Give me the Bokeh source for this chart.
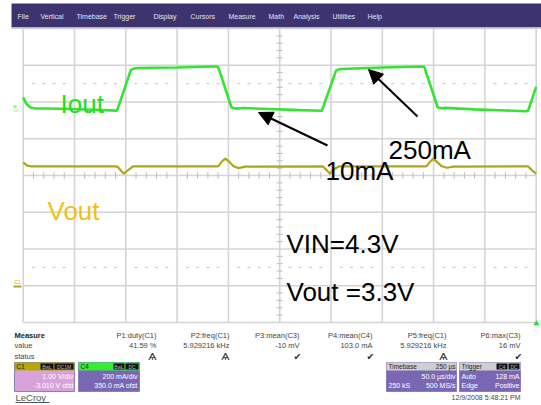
from bokeh.plotting import figure
from bokeh.models import Range1d, Arrow, NormalHead
from bokeh.core.properties import value
from bokeh.embed import file_html
from bokeh.resources import INLINE

# ---------------- data ----------------
# time in microseconds (50 us/div, 10 div), Iout in mA (200 mA/div, -350 mA centre), Vout in V (1 V/div, 3.01 V centre)
t_iout = [0, 3, 7, 12, 25, 45, 70, 90, 91.5,
          105, 108, 112, 150, 185, 189.5,
          191, 203, 207, 215, 240, 270, 291,
          305, 309, 350, 389, 391,
          404, 408, 412, 440, 470, 490, 492, 500]
iout_ma = [76, 40, 20, 15, 15, 12, 8, 3, 3,
           225, 232, 235, 238, 243, 243,
           225, 20, 14, 17, 12, 6, 2,
           222, 230, 238, 243, 240,
           20, 16, 18, 10, 4, 0, 2, 132]

t_vout = [0, 4, 8, 88, 92, 98, 102, 107, 190, 194, 197, 201, 205, 210, 216,
          292, 296, 299, 303, 308, 393, 397, 400, 404, 408, 413, 419, 492, 496, 500]
vout_v = [3.37, 3.28, 3.26, 3.26, 3.25, 3.06, 3.15, 3.26, 3.26, 3.40, 3.47, 3.38, 3.26, 3.21, 3.25,
          3.26, 3.15, 3.06, 3.18, 3.26, 3.26, 3.40, 3.47, 3.36, 3.26, 3.22, 3.25, 3.26, 3.15, 3.06]

time_ticks = [0, 50, 100, 150, 200, 250, 300, 350, 400, 450, 500]
div_ticks = [-4, -3, -2, -1, 0, 1, 2, 3, 4]

menu_items = ["File", "Vertical", "Timebase", "Trigger", "Display", "Cursors",
              "Measure", "Math", "Analysis", "Utilities", "Help"]
meas_headers = ["P1:duty(C1)", "P2:freq(C1)", "P3:mean(C3)", "P4:mean(C4)", "P5:freq(C1)", "P6:max(C3)"]
meas_values = ["41.59 %", "5.929216 kHz", "-10 mV", "103.0 mA", "5.929216 kHz", "16 mV"]
meas_status = ["Ѧ", "Ѧ", "✔", "✔", "Ѧ", "✔"]

# ---------------- layout constants (page pixels) ----------------
W, H = 541, 405
PAGE_L, PAGE_T = 0, 0
GRID_L, GRID_R, GRID_T, GRID_B = 22.7, 535.7, 28.0, 322.0
px_per_us = (GRID_R - GRID_L) / 500.0
px_per_div = (GRID_B - GRID_T) / 8.0
t_start = (PAGE_L - GRID_L) / px_per_us
t_end = (PAGE_L + W - GRID_L) / px_per_us
d_top = 4 + (GRID_T - PAGE_T) / px_per_div
d_bot = -4 - (PAGE_T + H - GRID_B) / px_per_div

p = figure(width=W, height=H, output_backend="svg", toolbar_location=None,
           x_axis_type=None, y_axis_type=None, min_border=0,
           x_range=Range1d(t_start, t_end), y_range=Range1d(d_bot, d_top))
p.outline_line_color = None
p.background_fill_color = "white"
p.border_fill_color = "white"
p.extra_x_ranges = {"px": Range1d(PAGE_L, PAGE_L + W)}
p.extra_y_ranges = {"px": Range1d(PAGE_T + H, PAGE_T),
                    "iout": Range1d(-350 + 200 * d_bot, -350 + 200 * d_top),
                    "vout": Range1d(3.01 + d_bot, 3.01 + d_top)}

GRID_C = "#d4d4d4"
# grid
p.segment(x0=time_ticks, x1=time_ticks, y0=[-4] * len(time_ticks), y1=[4] * len(time_ticks),
          line_color=GRID_C, line_width=1.6)
p.segment(x0=[0] * len(div_ticks), x1=[500] * len(div_ticks), y0=div_ticks, y1=div_ticks,
          line_color=GRID_C, line_width=1.6)
# centre minor ticks
mt = [t for t in range(10, 500, 10) if t % 50]
p.segment(x0=mt, x1=mt, y0=[-0.09] * len(mt), y1=[0.09] * len(mt), line_color="#bdbdbd", line_width=1)
md = [i / 5 for i in range(-19, 20) if i % 5]
p.segment(x0=[247] * len(md), x1=[253] * len(md), y0=md, y1=md, line_color="#bdbdbd", line_width=1)
# dotted reference rows
p.scatter(x=mt + mt, y=[2.5] * len(mt) + [-2.5] * len(mt), marker="dash", size=3,
          line_color="#c4c4c4", line_width=1)

# traces
p.line(t_vout, vout_v, y_range_name="vout", line_color="#b0a61c", line_width=2.2)
p.line(t_iout, iout_ma, y_range_name="iout", line_color="#33e433", line_width=2.6)

# channel markers
p.text(x=[15], y=[108], text=["C4"], x_range_name="px", y_range_name="px", angle=1.5708,
       text_font_size="5px", text_color="#2ee82e", text_align="center", text_baseline="middle",
       text_font=value("Liberation Sans"))
p.text(x=[17], y=[281], text=["C1"], x_range_name="px", y_range_name="px",
       text_font_size="5px", text_color="#b0a61c", text_align="center", text_baseline="middle",
       text_font=value("Liberation Sans"))
p.segment(x0=[13], x1=[21], y0=[286], y1=[286], x_range_name="px", y_range_name="px",
          line_color="#b0a61c", line_width=2)
p.scatter(x=[536], y=[323], marker="triangle", size=6, x_range_name="px", y_range_name="px",
          fill_color="#22dd22", line_color=None)


def txt(xs, ys, texts, size, color, align="left", baseline="middle",
        font="Liberation Sans", style="normal"):
    p.text(x=xs, y=ys, text=texts, x_range_name="px", y_range_name="px",
           text_font_size=f"{size}px", text_color=color, text_align=align,
           text_baseline=baseline, text_font=value(font), text_font_style=style)


BIG = "Liberation Sans"
txt([60], [103], ["Iout"], 26, "#22dd22", baseline="alphabetic", font=BIG)
txt([47], [210], ["Vout"], 26, "#f2c014", baseline="alphabetic", font=BIG)
txt([325], [170], ["10mA"], 26, "black", baseline="alphabetic", font=BIG)
txt([388], [149], ["250mA"], 26, "black", baseline="alphabetic", font=BIG)
txt([286], [243], ["VIN=4.3V"], 26, "black", baseline="alphabetic", font=BIG)
txt([286], [291], ["Vout =3.3V"], 26, "black", baseline="alphabetic", font=BIG)

for xs, ys, xe, ye in [(327, 145, 258, 112), (417, 116, 368, 69)]:
    p.add_layout(Arrow(x_start=xs, y_start=ys, x_end=xe, y_end=ye,
                       x_range_name="px", y_range_name="px", line_width=2, line_color="black",
                       end=NormalHead(size=14, fill_color="black", line_color="black")))

# menu bar
p.quad(left=[11], right=[541], top=[3], bottom=[27], x_range_name="px", y_range_name="px",
       fill_color="#3d346f", line_color=None)
p.segment(x0=[11], x1=[541], y0=[27.8], y1=[27.8], x_range_name="px", y_range_name="px",
          line_color="#cfcfd6", line_width=1.5)
menu_x = [17, 40, 76, 113, 153, 190, 228, 268, 293, 332, 367]
txt(menu_x, [16] * len(menu_items), menu_items, 7, "#e4e2f0")

# measure table
col_r = [156, 229, 299, 372, 446, 520]
txt([14], [335], ["Measure"], 7.5, "#222", style="bold")
txt([14, 14], [345, 356], ["value", "status"], 7.5, "#444")
txt(col_r, [335] * 6, meas_headers, 7.5, "#444", align="right")
txt(col_r, [345] * 6, meas_values, 7.5, "#444", align="right")
txt([152, 225, 297, 370, 443, 518], [356] * 6, meas_status, 9.5, "#333", align="center",
    font="DejaVu Sans")

# channel / timebase / trigger boxes
PURPLE = "#7a67b4"
boxes_l = [14, 78, 386, 459]
boxes_r = [74, 139, 456, 520]
head_c = ["#b5a800", "#33ee33", "#cfcfcf", "#cfcfcf"]
body_c = ["#d8a3d8", PURPLE, PURPLE, PURPLE]
p.quad(left=boxes_l, right=boxes_r, top=[362] * 4, bottom=[391] * 4, x_range_name="px",
       y_range_name="px", fill_color=body_c, line_color="#8c7cc4", line_width=1)
p.quad(left=boxes_l, right=boxes_r, top=[362] * 4, bottom=[370] * 4, x_range_name="px",
       y_range_name="px", fill_color=head_c, line_color=None)
badge_l = [40, 54, 113, 125, 496, 508]
badge_r = [53, 73, 124, 138, 507, 519]
p.quad(left=badge_l, right=badge_r, top=[363] * 6, bottom=[369] * 6, x_range_name="px",
       y_range_name="px", fill_color="#111", line_color=None)
txt([(a + b) / 2 for a, b in zip(badge_l, badge_r)], [366] * 6,
    ["BwL", "DC1M", "BwL", "DC", "C4", "DC"], 5, "#bbb", align="center")
txt([16, 80, 388, 461], [366] * 4, ["C1", "C4", "Timebase", "Trigger"], 6.5, "#222")
txt([455], [366], ["250 µs"], 6.5, "#222", align="right")
txt([73, 73, 137, 137, 455, 455, 519, 519], [376, 385, 376, 385, 376, 385, 376, 385],
    ["1.00 V/div", "-3.010 V ofst", "200 mA/div", "350.0 mA ofst",
     "50.0 µs/div", "500 MS/s", "128 mA", "Positive"], 7, "white", align="right")
txt([388, 461, 461], [385, 376, 385], ["250 kS", "Auto", "Edge"], 7, "white")

txt([15], [397], ["LeCroy"], 9.5, "#555")
p.segment(x0=[15], x1=[49], y0=[402], y1=[402], x_range_name="px", y_range_name="px",
          line_color="#555", line_width=1)
txt([520], [397], ["12/9/2008 5:48:21 PM"], 7, "#444", align="right")

open("out.html", "w").write(file_html(p, INLINE))
